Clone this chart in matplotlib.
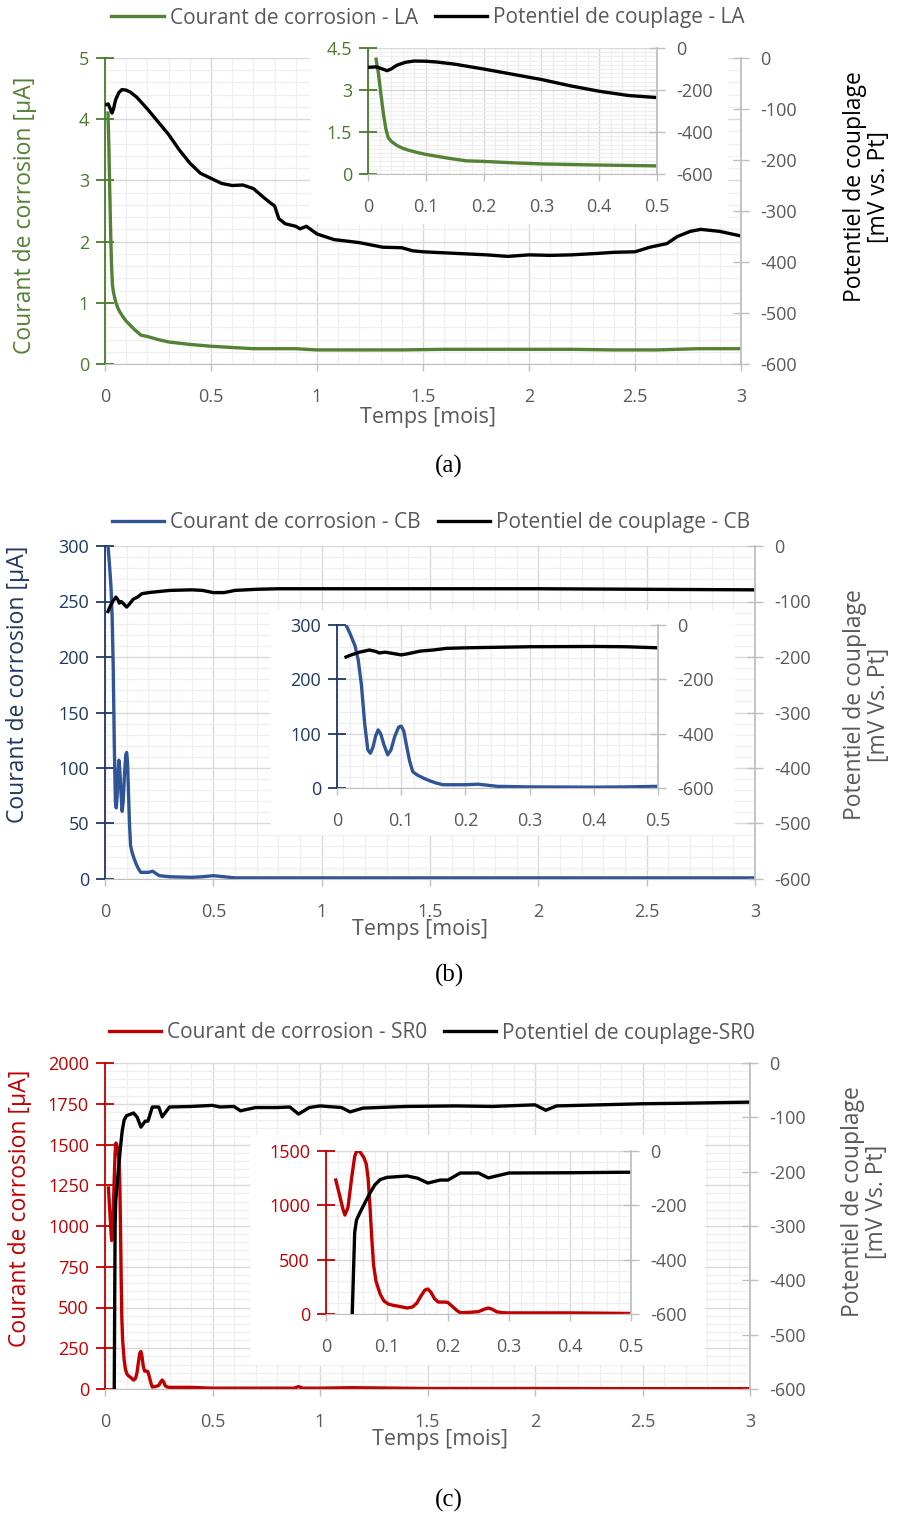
import matplotlib
matplotlib.use("Agg")
import matplotlib.pyplot as plt
from matplotlib.patches import Rectangle
from matplotlib.ticker import MultipleLocator, AutoMinorLocator

plt.rcParams["font.family"] = ["Open Sans", "DejaVu Sans"]
plt.rcParams["axes.unicode_minus"] = False

# ---- (a) LA -------------------------------------------------------------
t_la_i = [0.014, 0.018, 0.022, 0.027, 0.031, 0.035, 0.04, 0.05, 0.06, 0.07,
          0.085, 0.1, 0.12, 0.14, 0.17, 0.2, 0.25, 0.3, 0.4, 0.5, 0.6, 0.7,
          0.8, 0.9, 1.0, 1.2, 1.4, 1.6, 1.8, 2.0, 2.2, 2.4, 2.6, 2.8, 3.0]
i_la = [4.1, 3.6, 2.9, 2.1, 1.6, 1.3, 1.17, 1.02, 0.92, 0.85, 0.77, 0.7,
        0.63, 0.56, 0.47, 0.45, 0.4, 0.36, 0.32, 0.29, 0.27, 0.25, 0.25, 0.25,
        0.23, 0.23, 0.23, 0.24, 0.24, 0.24, 0.24, 0.23, 0.23, 0.25, 0.25]
t_la_e = [0.0, 0.015, 0.025, 0.033, 0.04, 0.05, 0.065, 0.08, 0.1, 0.12, 0.15,
          0.2, 0.25, 0.3, 0.35, 0.4, 0.45, 0.5, 0.55, 0.6, 0.65, 0.7, 0.75,
          0.78, 0.8, 0.82, 0.85, 0.9, 0.92, 0.95, 1.0, 1.08, 1.2, 1.31, 1.4,
          1.45, 1.5, 1.6, 1.7, 1.8, 1.9, 2.0, 2.1, 2.2, 2.33, 2.4, 2.5, 2.57,
          2.65, 2.7, 2.76, 2.81, 2.9, 3.0]
e_la = [-92, -90, -100, -108, -100, -82, -68, -62, -63, -67, -77, -100, -125,
        -150, -180, -206, -226, -236, -246, -250, -249, -256, -274, -284,
        -290, -315, -325, -330, -335, -330, -345, -356, -362, -371, -372,
        -378, -380, -382, -384, -386, -389, -386, -387, -386, -383, -381,
        -380, -371, -364, -350, -340, -336, -340, -349]

# ---- (b) CB -------------------------------------------------------------
t_cb_i = [0.014, 0.02, 0.028, 0.033, 0.038, 0.043, 0.048, 0.052, 0.056, 0.06,
          0.064, 0.068, 0.073, 0.079, 0.084, 0.09, 0.096, 0.1, 0.104, 0.108,
          0.113, 0.118, 0.125, 0.135, 0.145, 0.155, 0.165, 0.18, 0.2, 0.22,
          0.25, 0.3, 0.4, 0.45, 0.5, 0.6, 0.8, 1.0, 1.5, 2.0, 2.5, 3.0]
i_cb = [300, 285, 262, 236, 190, 120, 70, 64, 75, 95, 107, 100, 80, 61, 70,
        95, 112, 114, 105, 80, 50, 30, 24, 18, 13, 9, 6, 6, 6, 7, 3, 2, 1.5,
        2, 3, 1, 1, 1, 1, 1, 1, 1]
t_cb_e = [0.014, 0.02, 0.035, 0.045, 0.05, 0.06, 0.066, 0.075, 0.085, 0.1,
          0.11, 0.13, 0.15, 0.17, 0.2, 0.25, 0.3, 0.4, 0.45, 0.5, 0.55, 0.6,
          0.7, 0.8, 1.0, 1.5, 2.0, 2.5, 3.0]
e_cb = [-118, -112, -100, -95, -92, -97, -103, -100, -104, -110, -106, -96,
        -92, -86, -84, -82, -80, -79, -80, -84, -84, -80, -78, -77, -77, -77,
        -77, -78, -79]

# ---- (c) SR0 ------------------------------------------------------------
t_sr_i = [0.016, 0.022, 0.028, 0.031, 0.036, 0.042, 0.047, 0.051, 0.056,
          0.062, 0.066, 0.069, 0.072, 0.075, 0.078, 0.082, 0.089, 0.095,
          0.102, 0.11, 0.12, 0.133, 0.142, 0.149, 0.155, 0.162, 0.167, 0.172,
          0.178, 0.184, 0.195, 0.2, 0.207, 0.215, 0.22, 0.235, 0.25, 0.26,
          0.266, 0.272, 0.28, 0.29, 0.3, 0.4, 0.5, 0.7, 0.88, 0.9, 0.92, 1.0,
          1.15, 1.5, 2.0, 2.5, 3.0]
i_sr = [1233, 1100, 960, 911, 980, 1250, 1450, 1509, 1490, 1440, 1380, 1250,
        1000, 700, 450, 300, 180, 120, 92, 80, 70, 55, 65, 101, 160, 220,
        230, 200, 140, 110, 110, 105, 70, 30, 12, 15, 22, 45, 55, 45, 20, 12,
        10, 10, 5, 5, 5, 15, 5, 5, 8, 3, 3, 2, 2]
t_sr_e = [0.043, 0.045, 0.047, 0.05, 0.056, 0.064, 0.072, 0.08, 0.089, 0.1,
          0.133, 0.15, 0.167, 0.187, 0.2, 0.22, 0.25, 0.266, 0.3, 0.4, 0.5,
          0.535, 0.6, 0.63, 0.7, 0.8, 0.86, 0.9, 0.95, 1.0, 1.1, 1.14, 1.2,
          1.4, 1.63, 1.8, 2.0, 2.05, 2.1, 2.5, 2.7, 3.0]
e_sr = [-600, -450, -300, -254, -225, -190, -155, -125, -105, -97, -92, -100,
        -118, -107, -107, -81, -81, -99, -81, -80, -78, -81, -80, -88, -82,
        -82, -81, -94, -82, -79, -82, -90, -83, -80, -79, -80, -77, -87, -79,
        -75, -74, -72]

W, H = 898, 1515
GRAY = "#595959"
AXGRAY = "#BFBFBF"

fig = plt.figure(figsize=(W / 100, H / 100), dpi=100)


def rect(x0, x1, ytop, ybot):
    return [x0 / W, 1 - ybot / H, (x1 - x0) / W, (ybot - ytop) / H]


def fpos(x, y):
    return x / W, 1 - y / H


def style(ax, ax2, col, xmaj, ymaj, ynmin, fs=13):
    ax.set_facecolor("none")
    ax.xaxis.set_major_locator(MultipleLocator(xmaj))
    ax.xaxis.set_minor_locator(AutoMinorLocator(5))
    ax.yaxis.set_major_locator(MultipleLocator(ymaj))
    ax.yaxis.set_minor_locator(AutoMinorLocator(ynmin))
    ax.grid(which="major", color="#D9D9D9", lw=1.0)
    ax.grid(which="minor", color="#EFEFEF", lw=0.9)
    ax.set_axisbelow(True)
    ax.spines["top"].set_visible(False)
    ax2.spines["top"].set_visible(False)
    ax.spines["left"].set_color(col)
    ax.spines["left"].set_linewidth(1.3)
    ax.spines["bottom"].set_color(AXGRAY)
    ax.spines["right"].set_visible(False)
    ax2.spines["left"].set_visible(False)
    ax2.spines["bottom"].set_visible(False)
    ax2.spines["right"].set_color(AXGRAY)
    ax2.spines["right"].set_linewidth(1.3)
    ax.tick_params(axis="y", which="major", direction="inout", length=13,
                   width=1.3, color=col, labelcolor=col, labelsize=fs, pad=5)
    ax.tick_params(axis="y", which="minor", length=0)
    ax.tick_params(axis="x", which="major", direction="out", length=5,
                   width=1.0, color=AXGRAY, labelcolor=GRAY, labelsize=fs,
                   pad=12)
    ax.tick_params(axis="x", which="minor", length=0)
    ax2.tick_params(axis="y", which="major", direction="inout", length=12,
                    width=1.0, color=AXGRAY, labelcolor=GRAY, labelsize=fs,
                    pad=8)
    ax2.yaxis.set_major_locator(MultipleLocator(100))


def panel(main_px, inset_px, bg_px, t_i, i_v, t_e, e_v, col, txtcol, ymax,
          ymaj, ynmin, ins_ymax, ins_ymaj, ins_ynmin, ins_emaj):
    ax = fig.add_axes(rect(*main_px))
    ax2 = ax.twinx()
    style(ax, ax2, txtcol, 0.5, ymaj, ynmin)
    ax.plot(t_i, i_v, color=col, lw=2.4, solid_joinstyle="round")
    ax2.plot(t_e, e_v, color="black", lw=2.4, solid_joinstyle="round")
    ax.set_xlim(0, 3)
    ax.set_ylim(0, ymax)
    ax2.set_ylim(-600, 0)
    ax.xaxis.set_major_formatter(lambda v, p: f"{v:g}")
    # white backdrop behind the inset
    bx0, bx1, by0, by1 = bg_px
    ax2.add_patch(Rectangle(fpos(bx0, by1), (bx1 - bx0) / W, (by1 - by0) / H,
                            transform=fig.transFigure, facecolor="white",
                            edgecolor="none", zorder=20, clip_on=False))
    ia = fig.add_axes(rect(*inset_px))
    ia2 = ia.twinx()
    style(ia, ia2, txtcol, 0.1, ins_ymaj, ins_ynmin)
    ia.plot(t_i, i_v, color=col, lw=2.4, solid_joinstyle="round")
    ia2.plot(t_e, e_v, color="black", lw=2.4, solid_joinstyle="round")
    ia.set_xlim(0, 0.5)
    ia.set_ylim(0, ins_ymax)
    ia2.set_ylim(-600, 0)
    ia2.yaxis.set_major_locator(MultipleLocator(ins_emaj))
    ia.xaxis.set_major_formatter(lambda v, p: f"{v:g}")
    ia.yaxis.set_major_formatter(lambda v, p: f"{v:g}")
    return ax, ax2


col_la, txt_la = "#548235", "#4A7A2C"
col_cb, txt_cb = "#2F5597", "#203864"
col_sr, txt_sr = "#C00000", "#C00000"

panel((105, 741, 58, 364), (368, 657, 48, 174), (310, 728, 30, 224),
      t_la_i, i_la, t_la_e, e_la, col_la, txt_la, 5, 1, 5, 4.5, 1.5, 10, 200)
panel((105, 755, 546, 879), (337, 658, 625, 788), (270, 735, 610, 835),
      t_cb_i, i_cb, t_cb_e, e_cb, col_cb, txt_cb, 300, 50, 5, 300, 100, 5, 200)
panel((105, 750, 1063, 1389), (326, 631, 1151, 1314), (250, 705, 1135, 1365),
      t_sr_i, i_sr, t_sr_e, e_sr, col_sr, txt_sr, 2000, 250, 5, 1500, 500, 5, 200)

# axis titles
ylab_fs = 16.5
fig.text(*fpos(25, 215), "Courant de corrosion [µA]", rotation=90, ha="center",
         va="center", color=col_la, fontsize=ylab_fs)
fig.text(*fpos(867, 187), "Potentiel de couplage\n[mV vs. Pt]", rotation=90,
         ha="center", va="center", color="black", fontsize=ylab_fs,
         linespacing=1.05)
fig.text(*fpos(428, 418), "Temps [mois]", ha="center", va="center",
         color=GRAY, fontsize=15.5)

fig.text(*fpos(18, 684), "Courant de corrosion [µA]", rotation=90, ha="center",
         va="center", color=txt_cb, fontsize=ylab_fs)
fig.text(*fpos(867, 705), "Potentiel de couplage\n[mV Vs. Pt]", rotation=90,
         ha="center", va="center", color=GRAY, fontsize=ylab_fs,
         linespacing=1.05)
fig.text(*fpos(420, 929), "Temps [mois]", ha="center", va="center",
         color=GRAY, fontsize=15.5)

fig.text(*fpos(20, 1208), "Courant de corrosion [µA]", rotation=90, ha="center",
         va="center", color=col_sr, fontsize=ylab_fs)
fig.text(*fpos(865, 1202), "Potentiel de couplage\n[mV Vs. Pt]", rotation=90,
         ha="center", va="center", color=GRAY, fontsize=ylab_fs,
         linespacing=1.05)
fig.text(*fpos(440, 1439), "Temps [mois]", ha="center", va="center",
         color=GRAY, fontsize=15.5)

# legends
for col, lab1, lab2, xc, yc in [
        (col_la, "Courant de corrosion - LA", "Potentiel de couplage - LA", 428, 18),
        (col_cb, "Courant de corrosion - CB", "Potentiel de couplage - CB", 431, 523),
        (col_sr, "Courant de corrosion - SR0", "Potentiel de couplage-SR0", 432, 1033)]:
    h1 = plt.Line2D([], [], color=col, lw=2.4)
    h2 = plt.Line2D([], [], color="black", lw=2.4)
    fig.legend([h1, h2], [lab1, lab2], loc="center", bbox_to_anchor=fpos(xc, yc),
               ncol=2, frameon=False, fontsize=15, handlelength=2.5,
               handletextpad=0.3, columnspacing=0.8, labelcolor=GRAY,
               borderpad=0, borderaxespad=0)

# captions
for lab, y in [("(a)", 466), ("(b)", 975), ("(c)", 1500)]:
    fig.text(*fpos(449, y), lab, ha="center", va="center", fontsize=18,
             family="Liberation Serif", color="black")

fig.savefig("out.png", dpi=100)
